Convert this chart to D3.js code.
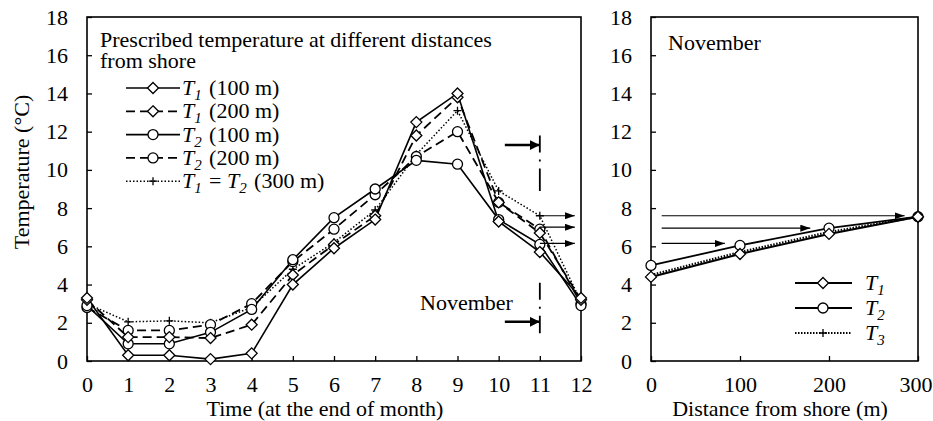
<!DOCTYPE html>
<html><head><meta charset="utf-8">
<script src="https://cdn.jsdelivr.net/npm/d3@7"></script>
<style>
body{margin:0;background:#fff}
text{font-family:"Liberation Serif","DejaVu Serif","Times New Roman",serif;fill:#000}
</style>
</head><body>
<svg id="c" width="933" height="421"></svg>
<script>
// ---------------- data ----------------
const months = [0,1,2,3,4,5,6,7,8,9,10,11,12];
const t1_100 = [3.3, 0.3, 0.3, 0.1, 0.4, 4.0, 5.9, 7.4, 12.5, 14.0, 7.3, 5.7, 3.3];
const t1_200 = [3.2, 1.25, 1.25, 1.2, 1.9, 4.5, 6.1, 7.6, 11.8, 13.8, 8.3, 6.7, 3.2];
const t2_100 = [2.9, 0.9, 0.9, 1.5, 2.7, 5.3, 7.5, 9.0, 10.5, 10.3, 7.4, 6.1, 2.9];
const t2_200 = [2.8, 1.6, 1.6, 1.9, 3.0, 5.2, 6.9, 8.7, 10.7, 12.0, 8.3, 6.9, 3.0];
const t3_300 = [3.0, 2.05, 2.1, 2.0, 2.8, 4.8, 6.2, 7.9, 10.8, 13.1, 8.9, 7.6, 3.1];

const distances = [0, 100, 200, 300];
const novT1 = [4.4, 5.6, 6.65, 7.55];
const novT2 = [5.0, 6.05, 6.95, 7.55];
const novT3 = [4.5, 5.7, 6.75, 7.55];

const tempTicks = [0,2,4,6,8,10,12,14,16,18];
const monthTicks = [0,1,2,3,4,5,6,7,8,9,10,11,12];
const distTicks = [0,100,200,300];

const leftLegend = ["T_1 (100 m)", "T_1 (200 m)", "T_2 (100 m)", "T_2 (200 m)", "T_1 = T_2 (300 m)"];
const rightLegend = ["T_1", "T_2", "T_3"];

// annotation values (data units)
const novArrowsLeft = [7.6, 7.0, 6.15];           // month 11 -> 11.85
const novArrowsRight = [[7.6, 285], [6.95, 179], [6.15, 83]]; // from 12 m
const bracketArrows = [11.3, 2.05];                // month 10.15 -> 11
const bracketLines = [[11.8, 8.9], [4.1, 1.45]];

// ---------------- layout ----------------
const svg = d3.select("#c");
const FS = 22;
const FF = '"Liberation Serif","DejaVu Serif",serif';
const L = {x0: 87, x1: 581, y0: 17, y1: 361};
const R = {x0: 651, x1: 918, y0: 17, y1: 361};

const xL = d3.scaleLinear().domain([0, 12]).range([L.x0, L.x1]);
const yL = d3.scaleLinear().domain([0, 18]).range([L.y1, L.y0]);
const xR = d3.scaleLinear().domain([0, 300]).range([R.x0, R.x1]);
const yR = d3.scaleLinear().domain([0, 18]).range([R.y1, R.y0]);

const defs = svg.append("defs");
function mk(id, w, h){
  defs.append("marker").attr("id", id).attr("markerUnits","userSpaceOnUse")
    .attr("markerWidth", w).attr("markerHeight", h).attr("refX", w).attr("refY", h/2)
    .attr("orient","auto").append("path")
    .attr("d", `M0,0L${w},${h/2}L0,${h}Z`).attr("fill","#000");
}
mk("ah", 10, 10);
mk("ahs", 10, 7);

function axes(g, x, y, xt, box){
  const ya = d3.axisLeft(y).tickValues(tempTicks).tickSizeInner(-5).tickSizeOuter(0).tickPadding(19);
  const xa = d3.axisBottom(x).tickValues(xt).tickSizeInner(-5).tickSizeOuter(0).tickPadding(15);
  const gy = g.append("g").attr("transform", `translate(${box.x0},0)`).call(ya);
  const gx = g.append("g").attr("transform", `translate(0,${box.y1})`).call(xa);
  [gy, gx].forEach(a => {
    a.select(".domain").remove();
    a.selectAll(".tick line").attr("stroke","#000").attr("stroke-width",1.3);
    a.selectAll("text").attr("font-size", FS).attr("font-family", FF).attr("fill","#000");
  });
  g.append("rect").attr("x", box.x0).attr("y", box.y0)
    .attr("width", box.x1 - box.x0).attr("height", box.y1 - box.y0)
    .attr("fill","none").attr("stroke","#000").attr("stroke-width",1.6);
  return gx;
}

function marker(g, type, cx, cy){
  if (type === "diamond") {
    g.append("path").attr("d", `M${cx},${cy-5.5}L${cx+5.5},${cy}L${cx},${cy+5.5}L${cx-5.5},${cy}Z`)
      .attr("fill","#fff").attr("stroke","#000").attr("stroke-width",1.3);
  } else if (type === "circle") {
    g.append("circle").attr("cx", cx).attr("cy", cy).attr("r", 5)
      .attr("fill","#fff").attr("stroke","#000").attr("stroke-width",1.3);
  } else if (type === "plus") {
    g.append("path").attr("d", `M${cx-4},${cy}H${cx+4}M${cx},${cy-4}V${cy+4}`)
      .attr("stroke","#000").attr("stroke-width",1.3);
  }
}

function richText(g, x, y, s, size){
  const t = g.append("text").attr("x", x).attr("y", y).attr("font-size", size);
  const parts = s.split(/(T_\d)/).filter(p => p.length);
  parts.forEach(p => {
    if (/^T_\d$/.test(p)) {
      t.append("tspan").attr("font-style","italic").text("T");
      t.append("tspan").attr("font-style","italic").attr("font-size", size*0.68).attr("dy", 5).text(p[2]);
      t.append("tspan").attr("dy", -5).text("\u200A");
    } else {
      t.append("tspan").text(p);
    }
  });
  return t;
}

// ---------------- left panel ----------------
const gl = svg.append("g");
axes(gl, xL, yL, monthTicks, L);

const leftSeries = [
  {v: t1_100, m: "diamond", dash: null, w: 1.6},
  {v: t1_200, m: "diamond", dash: "9,5", w: 1.8},
  {v: t2_100, m: "circle", dash: null, w: 1.6},
  {v: t2_200, m: "circle", dash: "9,5", w: 1.8},
  {v: t3_300, m: "plus", dash: "1.5,2", w: 1.5},
];
const lineL = d3.line().x((d,i) => xL(months[i])).y(d => yL(d));
leftSeries.forEach(s => {
  gl.append("path").attr("d", lineL(s.v)).attr("fill","none").attr("stroke","#000")
    .attr("stroke-width", s.w).attr("stroke-dasharray", s.dash);
});
leftSeries.slice().reverse().forEach(s => {
  s.v.forEach((d,i) => marker(gl, s.m, xL(months[i]), yL(d)));
});

// annotations
bracketLines.forEach(([a,b]) => {
  gl.append("line").attr("x1", xL(11)).attr("x2", xL(11)).attr("y1", yL(a)).attr("y2", yL(b))
    .attr("stroke","#000").attr("stroke-width",1.8).attr("stroke-dasharray","17,7,2,7,30");
});
bracketArrows.forEach(v => {
  gl.append("line").attr("x1", xL(10.15)).attr("x2", xL(11)).attr("y1", yL(v)).attr("y2", yL(v))
    .attr("stroke","#000").attr("stroke-width",2.6).attr("marker-end","url(#ah)");
});
novArrowsLeft.forEach(v => {
  gl.append("line").attr("x1", xL(11)).attr("x2", xL(11.85)).attr("y1", yL(v)).attr("y2", yL(v))
    .attr("stroke","#000").attr("stroke-width",1.2).attr("marker-end","url(#ahs)");
});
gl.append("text").attr("x", 420).attr("y", 310).attr("font-size", FS).text("November");

// legend
gl.append("text").attr("x", 100).attr("y", 47).attr("font-size", FS).text("Prescribed temperature at different distances");
gl.append("text").attr("x", 100).attr("y", 68).attr("font-size", FS).text("from shore");
leftLegend.forEach((lab, i) => {
  const s = leftSeries[i];
  const cy = 88 + i * 23.3;
  gl.append("line").attr("x1", 126).attr("x2", 180).attr("y1", cy).attr("y2", cy)
    .attr("stroke","#000").attr("stroke-width", s.w).attr("stroke-dasharray", s.dash);
  marker(gl, s.m, 153, cy);
  richText(gl, 182, cy + 7, lab, FS);
});

// axis titles
gl.append("text").attr("transform", `translate(29,172) rotate(-90)`)
  .attr("text-anchor","middle").attr("font-size", FS).text("Temperature (\u00B0C)");
gl.append("text").attr("x", 325).attr("y", 416).attr("text-anchor","middle")
  .attr("font-size", FS).text("Time (at the end of month)");

// ---------------- right panel ----------------
const gr = svg.append("g");
const gxR = axes(gr, xR, yR, distTicks, R);
// keep the last tick label inside the window
gxR.selectAll(".tick text").filter(d => d === 300).attr("text-anchor","end").attr("dx", 14);

const rightSeries = [
  {v: novT1, m: "diamond", dash: null, w: 2},
  {v: novT2, m: "circle", dash: null, w: 1.8},
  {v: novT3, m: "plus", dash: "1.5,1.5", w: 2.2},
];
const lineR = d3.line().x((d,i) => xR(distances[i])).y(d => yR(d));
rightSeries.forEach(s => {
  gr.append("path").attr("d", lineR(s.v)).attr("fill","none").attr("stroke","#000")
    .attr("stroke-width", s.w).attr("stroke-dasharray", s.dash);
});
rightSeries.slice().reverse().forEach(s => {
  s.v.forEach((d,i) => marker(gr, s.m, xR(distances[i]), yR(d)));
});
novArrowsRight.forEach(([v, to]) => {
  gr.append("line").attr("x1", xR(12)).attr("x2", xR(to)).attr("y1", yR(v)).attr("y2", yR(v))
    .attr("stroke","#000").attr("stroke-width",1.2).attr("marker-end","url(#ahs)");
});
gr.append("text").attr("x", 668).attr("y", 50).attr("font-size", FS).text("November");

rightLegend.forEach((lab, i) => {
  const s = rightSeries[i];
  const cy = 283 + i * 25;
  gr.append("line").attr("x1", 795).attr("x2", 852).attr("y1", cy).attr("y2", cy)
    .attr("stroke","#000").attr("stroke-width", s.w).attr("stroke-dasharray", s.dash);
  marker(gr, s.m, 823, cy);
  richText(gr, 865, cy + 7, lab, FS);
});
gr.append("text").attr("x", 780).attr("y", 416).attr("text-anchor","middle")
  .attr("font-size", FS).text("Distance from shore (m)");
</script>
</body></html>
